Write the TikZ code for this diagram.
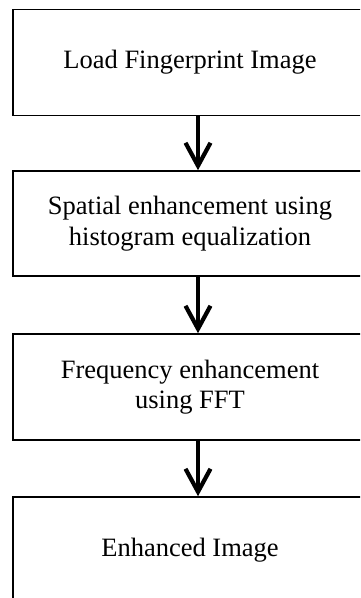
\documentclass[tikz,border=0pt]{standalone}
\usepackage{fontspec}
\setmainfont{Liberation Serif}
\usetikzlibrary{arrows.meta}
\tikzset{
  stepbox/.style={draw, line width=1.6bp, rectangle, minimum width=354bp, minimum height=106bp, align=center, inner sep=0pt,
    font=\fontsize{26.5bp}{30.5bp}\selectfont},
  arr/.style={line width=4.2bp, -{Straight Barb[length=23bp, width=25bp, line join=miter]}}
}
\begin{document}
\begin{tikzpicture}[x=1bp,y=-1bp]
\clip (0,0) rectangle (360,598);
\fill[white] (0,0) rectangle (360,598);
\node[stepbox] (b1) at (190,62.5) {Load Fingerprint Image};
\node[stepbox, minimum height=105bp] (b2) at (190,223.5) {Spatial enhancement using\\histogram equalization};
\node[stepbox] (b3) at (190,387) {Frequency enhancement\\using FFT};
\node[stepbox] (b4) at (190,550) {Enhanced Image};
\draw[arr] ([xshift=8bp]b1.south) -- ([xshift=8bp]b2.north);
\draw[arr] ([xshift=8bp]b2.south) -- ([xshift=8bp]b3.north);
\draw[arr] ([xshift=8bp]b3.south) -- ([xshift=8bp]b4.north);
\end{tikzpicture}
\end{document}
